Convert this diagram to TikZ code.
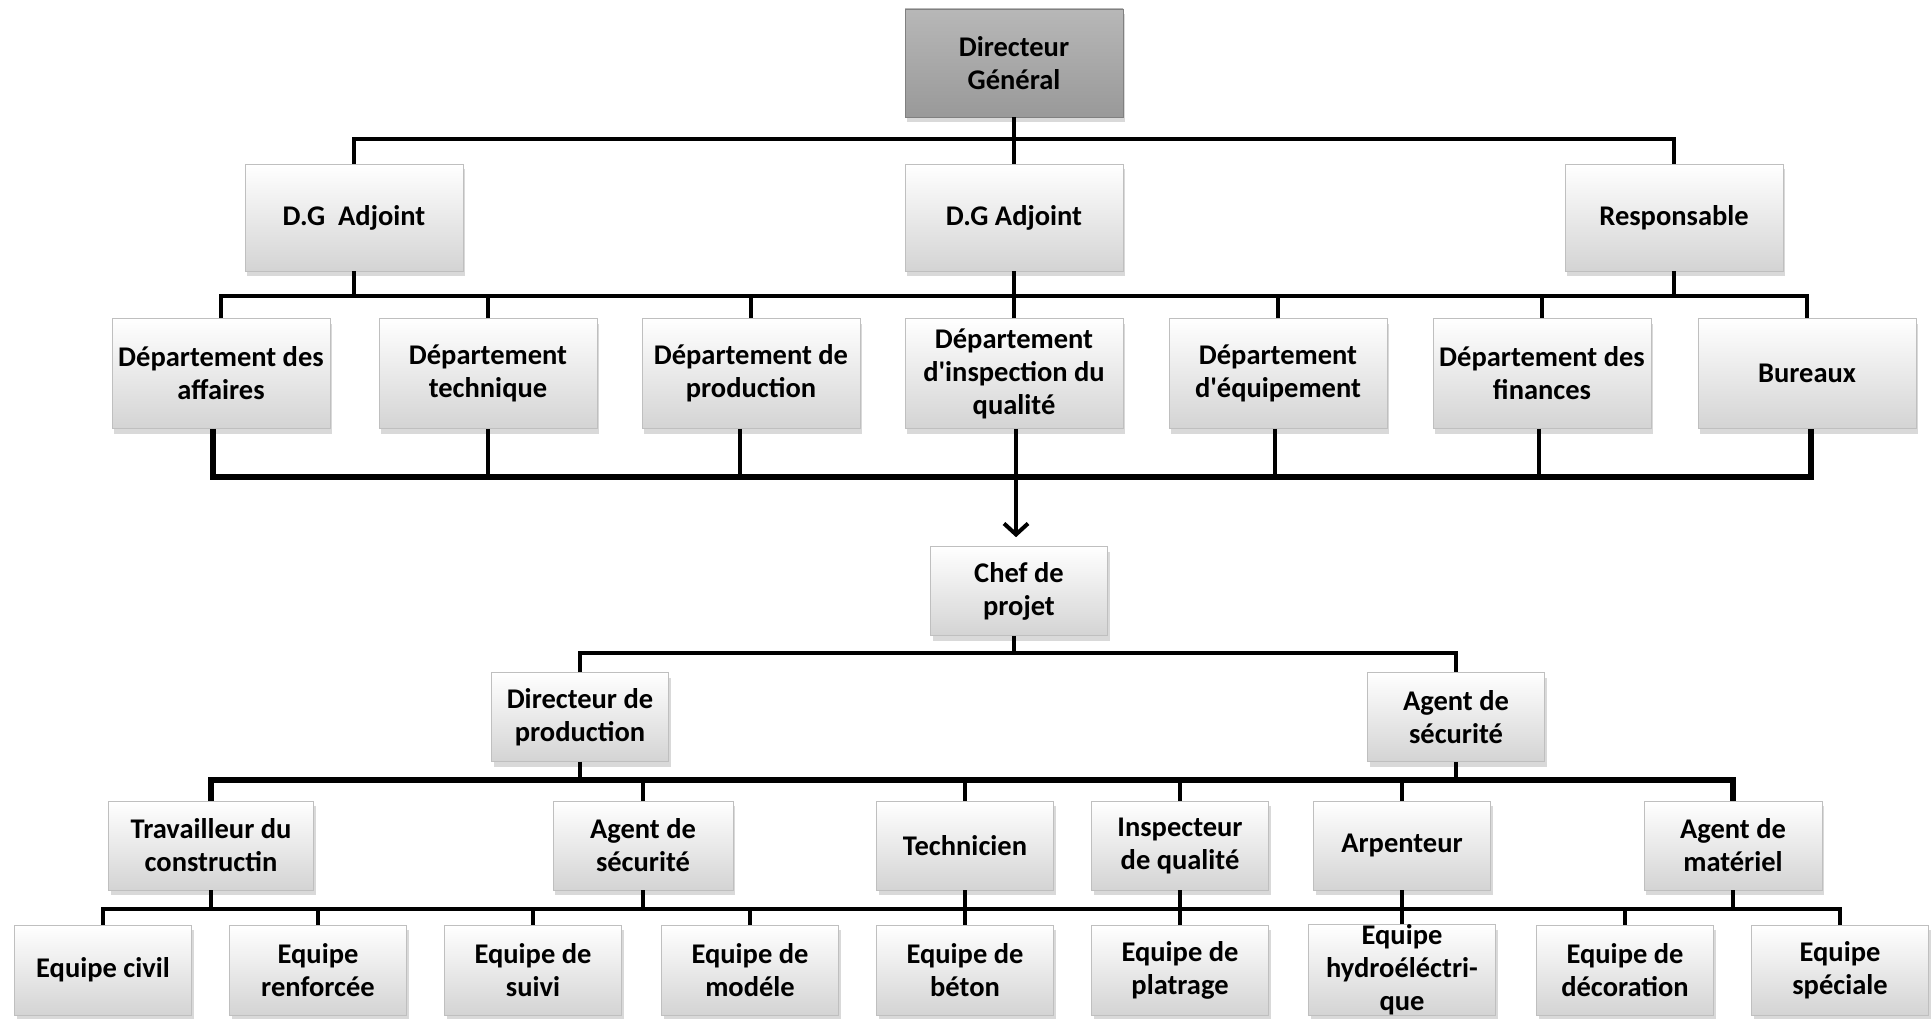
\documentclass[tikz,border=0pt]{standalone}
\usepackage{fontspec}
\setmainfont{Carlito}
\usetikzlibrary{shadows,arrows.meta}
\begin{document}
\begin{tikzpicture}[x=1pt,y=-1pt,
  box/.style={rectangle, inner sep=0pt, align=center,
    font=\bfseries\fontsize{28.5}{33}\selectfont,
    top color=white, bottom color=black!17, draw=black!25, line width=0.6pt,
    drop shadow={shadow xshift=2pt, shadow yshift=-5pt, opacity=0.3}},
  big/.style={box, minimum width=218pt, minimum height=110pt},
  sm/.style={box, minimum width=177pt, minimum height=89pt},
  ln/.style={line width=4.5pt, black},
  thk/.style={line width=6.5pt, black},
  arr/.style={line width=4.5pt, black, -{Straight Barb[length=11pt,width=24pt,line width=4pt]}, shorten >=9pt},
]
\useasboundingbox (0,0) rectangle (1932,1019);

% rows
\node[big, minimum height=108pt, top color=black!28, bottom color=black!40, draw=black!50] (dg) at (1014,63) {Directeur\\Général};

\node[big, minimum height=107pt] (dga1) at (354,217.5) {D.G\ \ Adjoint};
\node[big, minimum height=107pt] (dga2) at (1014,217.5) {D.G Adjoint};
\node[big, minimum height=107pt] (resp) at (1674,217.5) {Responsable};

\node[big] (aff)   at (221,373.5)  {Département des\\affaires};
\node[big] (tech)  at (488,373.5)  {Département\\technique};
\node[big] (prod)  at (751,373.5)  {Département de\\production};
\node[big] (insp)  at (1014,373.5) {Département\\d\textquotesingle inspection du\\qualité};
\node[big] (equip) at (1278,373.5) {Département\\d\textquotesingle équipement};
\node[big] (fin)   at (1542,373.5) {Département des\\finances};
\node[big] (bur)   at (1807,373.5) {Bureaux};

\node[sm] (chef) at (1019,591) {Chef de\\projet};

\node[sm] (dirp) at (580,717)  {Directeur de\\production};
\node[sm] (agsr) at (1456,717) {Agent de\\sécurité};

\node[sm, minimum width=205pt] (trav) at (211,845.5)  {Travailleur du\\constructin};
\node[sm, minimum width=180pt] (agsl) at (643,845.5)  {Agent de\\sécurité};
\node[sm] (techn) at (965,845.5)  {Technicien};
\node[sm] (insq)  at (1180,845.5) {Inspecteur\\de qualité};
\node[sm] (arp)   at (1402,845.5) {Arpenteur};
\node[sm, minimum width=178pt] (agm) at (1733,845.5) {Agent de\\matériel};

\node[sm, minimum height=90pt] (eciv) at (103,970)  {Equipe civil};
\node[sm, minimum height=90pt] (eren) at (318,970)  {Equipe\\renforcée};
\node[sm, minimum height=90pt] (esui) at (533,970)  {Equipe de\\suivi};
\node[sm, minimum height=90pt] (emod) at (750,970)  {Equipe de\\modéle};
\node[sm, minimum height=90pt] (ebet) at (965,970)  {Equipe de\\béton};
\node[sm, minimum height=90pt] (epla) at (1180,970) {Equipe de\\platrage};
\node[sm, minimum height=90pt, minimum width=187pt] (ehyd) at (1402,970) {Equipe\\hydroéléctri-\\que};
\node[sm, minimum height=90pt] (edec) at (1625,970) {Equipe de\\décoration};
\node[sm, minimum height=90pt] (espe) at (1840,970) {Equipe\\spéciale};

% bus levels
\coordinate (y1) at (0,139);
\coordinate (y2) at (0,296);
\coordinate (y3) at (0,477);
\coordinate (y4) at (0,653);
\coordinate (y5) at (0,780);
\coordinate (y6) at (0,909);

% level 1
\draw[ln] (dga1.north) -- (dga1.north|-y1) -- (resp.north|-y1) -- (resp.north);
\draw[ln] (dg.south) -- (dga2.north);

% level 2
\draw[ln] (aff.north) -- (aff.north|-y2) -- (bur.north|-y2) -- (bur.north);
\foreach \n in {tech,prod,insp,equip,fin} \draw[ln] (\n.north) -- (\n.north|-y2);
\foreach \n in {dga1,dga2,resp} \draw[ln] (\n.south) -- (\n.south|-y2);

% level 3
\draw[thk] ([xshift=-8pt]aff.south) -- ([xshift=-8pt]aff.south|-y3) -- ([xshift=4pt]bur.south|-y3) -- ([xshift=4pt]bur.south);
\draw[ln] (tech.south) -- (tech.south|-y3);
\draw[ln] ([xshift=-11pt]prod.south) -- ([xshift=-11pt]prod.south|-y3);
\draw[ln] ([xshift=-3pt]equip.south) -- ([xshift=-3pt]equip.south|-y3);
\draw[ln] ([xshift=-3pt]fin.south) -- ([xshift=-3pt]fin.south|-y3);
\draw[arr] ([xshift=2pt]insp.south) -- ([xshift=2pt]insp.south|-chef.north);

% level 4
\draw[ln] (dirp.north) -- (dirp.north|-y4) -- (agsr.north|-y4) -- (agsr.north);
\draw[ln] ([xshift=-5pt]chef.south) -- ([xshift=-5pt]chef.south|-y4);

% level 5
\draw[thk] (trav.north) -- (trav.north|-y5) -- (agm.north|-y5) -- (agm.north);
\foreach \n in {agsl,techn,insq,arp} \draw[ln] (\n.north) -- (\n.north|-y5);
\foreach \n in {dirp,agsr} \draw[ln] (\n.south) -- (\n.south|-y5);

% level 6
\draw[ln] (eciv.north) -- (eciv.north|-y6) -- (espe.north|-y6) -- (espe.north);
\foreach \n in {eren,esui,emod,ebet,epla,ehyd,edec} \draw[ln] (\n.north) -- (\n.north|-y6);
\foreach \n in {trav,agsl,techn,insq,arp,agm} \draw[ln] (\n.south) -- (\n.south|-y6);
\end{tikzpicture}
\end{document}
